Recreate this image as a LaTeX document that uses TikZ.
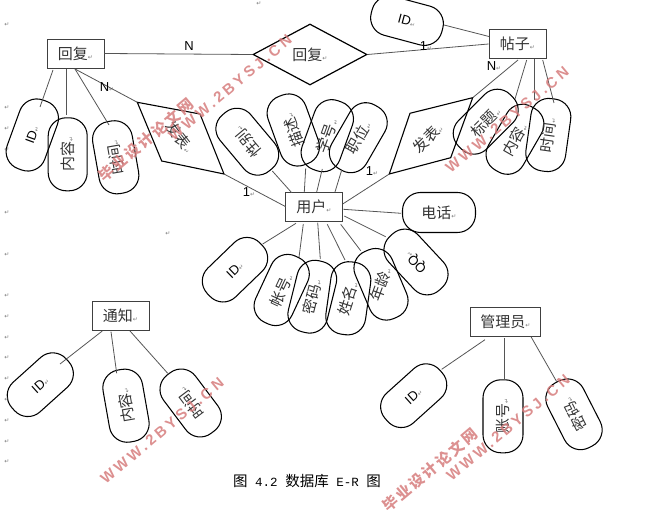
\documentclass[tikz,border=0pt]{standalone}
\usepackage{fontspec}
\usetikzlibrary{shapes.geometric}
\setmainfont{Liberation Sans}
\newfontfamily\cjk{Noto Sans CJK SC}
\newfontfamily\retfont{DejaVu Sans}
\newfontfamily\capmono{Liberation Mono}
\newfontfamily\wmlatin[LetterSpace=22]{Liberation Sans}
\newfontfamily\wmcjk[LetterSpace=15]{Noto Sans CJK SC}
\newcommand{\retm}{{\retfont\fontsize{6}{6}\selectfont\textcolor{retgray}{↵}}}
\newcommand{\lbl}[1]{{\cjk\fontsize{15}{15}\selectfont\textcolor{txtgray}{#1}}\retm}
\newcommand{\lat}[1]{{\fontsize{13}{13}\selectfont #1}\retm}
\definecolor{retgray}{HTML}{7A7A7A}
\definecolor{txtgray}{HTML}{333333}
\definecolor{edgegray}{HTML}{555555}
\definecolor{wmred}{HTML}{D67C7C}
\tikzset{
  entity/.style={draw=black!75, line width=0.9pt, minimum width=57pt, minimum height=29pt, inner sep=0pt},
  rel/.style={diamond, draw=black, line width=1.2pt, minimum width=114pt, minimum height=61pt, inner sep=0pt},
  attr/.style={draw=black, line width=1.05pt, rounded corners=18pt, minimum width=73pt, minimum height=40pt, inner sep=0pt},
  link/.style={draw=edgegray, line width=0.8pt},
  relbox/.style={draw=black, line width=1.1pt},
  card/.style={inner sep=0pt, font=\fontsize{13}{13}\selectfont},
  retmark/.style={inner sep=0pt},
  wmtext/.style={text=wmred, opacity=0.85, inner sep=0pt, rotate=40},
}
\begin{document}
\begin{tikzpicture}[x=1pt,y=-1pt]
\useasboundingbox (0,0) rectangle (657,510);

% entities
\node[entity] (eReply) at (75.5,53.5) {\lbl{回复}};
\node[entity] (ePost) at (517.5,44) {\lbl{帖子}};
\node[entity] (eUser) at (314,207) {\lbl{用户}};
\node[entity] (eNotice) at (120.5,315.7) {\lbl{通知}};
\node[entity, minimum width=70pt] (eAdmin) at (505.5,322) {\lbl{管理员}};

% relationship diamond
\node[rel] (rReply) at (310,54.5) {\lbl{回复}};

% left parallelogram
\coordinate (pLa) at (137.3,102.3);
\coordinate (pLb) at (200,114);
\coordinate (pLc) at (224,174);
\coordinate (pLd) at (161.7,161);
\draw[relbox] (pLa) -- (pLb) -- (pLc) -- (pLd) -- cycle;
\node[rotate=-52, inner sep=0pt] (rPubL) at (180,137) {\lbl{发表}};

% right parallelogram
\coordinate (pRa) at (410,113.3);
\coordinate (pRb) at (472.7,97.7);
\coordinate (pRc) at (450.7,157.7);
\coordinate (pRd) at (389.3,174);
\draw[relbox] (pRa) -- (pRb) -- (pRc) -- (pRd) -- cycle;
\node[rotate=45, inner sep=0pt] (rPubR) at (428,138) {\lbl{发表}};

% reply attributes
\node[attr, rotate=70] (aR1) at (32.3,135) {\lat{ID}};
\node[attr, rotate=90, minimum height=39pt] (aR2) at (67.7,154.3) {\lbl{内容}};
\node[attr, rotate=100] (aR3) at (115.7,157.3) {\lbl{时间}};

% post attributes
\node[attr, rotate=-15] (aP0) at (407,20.7) {\lat{ID}};
\node[attr, rotate=45] (aP1) at (485.7,121.7) {\lbl{标题}};
\node[attr, rotate=60] (aP2) at (515,139.3) {\lbl{内容}};
\node[attr, rotate=82] (aP3) at (548.3,135) {\lbl{时间}};

% user attributes
\node[attr, rotate=130] (aU1) at (247.3,141.7) {\lbl{性别}};
\node[attr, rotate=110] (aU2) at (293.3,130) {\lbl{描述}};
\node[attr, rotate=70] (aU3) at (327.3,135.7) {\lbl{学号}};
\node[attr, rotate=60] (aU4) at (358.3,137.7) {\lbl{职位}};
\node[attr] (aU5) at (439,212.5) {\lbl{电话}};
\node[attr, rotate=133] (aU6) at (416,262) {\lat{QQ}};
\node[attr, rotate=113] (aU7) at (381,284.3) {\rotatebox{-43}{\lbl{年龄}}};
\node[attr, rotate=82] (aU8) at (348.3,298.3) {\rotatebox{-10}{\lbl{姓名}}};
\node[attr, rotate=76] (aU9) at (312.3,296.7) {\lbl{密码}};
\node[attr, rotate=65] (aU10) at (281.7,290) {\lbl{帐号}};
\node[attr, rotate=44] (aU11) at (235,269.7) {\lat{ID}};

% notice attributes
\node[attr, rotate=42] (aN1) at (40.3,384.7) {\lat{ID}};
\node[attr, rotate=100] (aN2) at (126,405.7) {\lbl{内容}};
\node[attr, rotate=127] (aN3) at (190.7,403) {\lbl{时间}};

% admin attributes
\node[attr, rotate=42] (aA1) at (413.7,395.7) {\lat{ID}};
\node[attr, rotate=90] (aA2) at (503,416.3) {\lbl{账号}};
\node[attr, rotate=117] (aA3) at (574,414.3) {\lbl{密码}};

% connectors (offsets from node centres)
\draw[link] (eReply.east) -- (rReply.west);
\draw[link] (rReply.east) -- (ePost.west);
\draw[link] ([shift={(-22.5,16.5)}]eReply.center) -- ([shift={(7.7,-28)}]aR1.center);
\draw[link] ([shift={(-8.8,15.5)}]eReply.center) -- ([shift={(-1,-39.3)}]aR2.center);
\draw[link] ([shift={(-0.5,15.5)}]eReply.center) -- ([shift={(-6.7,-32.3)}]aR3.center);
\draw[link] ([shift={(-0.5,15.5)}]eReply.center) -- (pLa);
\draw[link] (pLc) -- ([shift={(-28.3,-0.3)}]eUser.center);
\draw[link] ([shift={(-28.5,-7.5)}]ePost.center) -- ([shift={(37,4.3)}]aP0.center);
\draw[link] ([shift={(0.5,16)}]ePost.center) -- (pRb);
\draw[link] ([shift={(9.2,16)}]ePost.center) -- ([shift={(29.3,-22.7)}]aP1.center);
\draw[link] ([shift={(16.5,15.3)}]ePost.center) -- ([shift={(19,-39.3)}]aP2.center);
\draw[link] ([shift={(25.2,16)}]ePost.center) -- ([shift={(5.7,-32)}]aP3.center);
\draw[link] (pRd) -- ([shift={(28.7,-3)}]eUser.center);
\draw[link] ([shift={(-22.3,-14.3)}]eUser.center) -- ([shift={(25,29.3)}]aU1.center);
\draw[link] ([shift={(-9.7,-15)}]eUser.center) -- ([shift={(12.4,38.3)}]aU2.center);
\draw[link] ([shift={(2.7,-15)}]eUser.center) -- ([shift={(-5,33.3)}]aU3.center);
\draw[link] ([shift={(21,-15)}]eUser.center) -- ([shift={(-16.6,32.3)}]aU4.center);
\draw[link] ([shift={(29.3,2.3)}]eUser.center) -- ([shift={(-38,0.8)}]aU5.center);
\draw[link] ([shift={(30.3,9)}]eUser.center) -- ([shift={(-30.3,-25.3)}]aU6.center);
\draw[link] ([shift={(26.7,17.3)}]eUser.center) -- ([shift={(-20.3,-33.6)}]aU7.center);
\draw[link] ([shift={(13.3,17.3)}]eUser.center) -- ([shift={(-3.3,-38.3)}]aU8.center);
\draw[link] ([shift={(3.7,15.7)}]eUser.center) -- ([shift={(8,-37.7)}]aU9.center);
\draw[link] ([shift={(-10.7,17)}]eUser.center) -- ([shift={(17.3,-32.7)}]aU10.center);
\draw[link] ([shift={(-18,16.3)}]eUser.center) -- ([shift={(27.7,-25.7)}]aU11.center);
\draw[link] ([shift={(-18.2,15.3)}]eNotice.center) -- ([shift={(19.7,-20.7)}]aN1.center);
\draw[link] ([shift={(-9.5,16)}]eNotice.center) -- ([shift={(-9.3,-32.4)}]aN2.center);
\draw[link] ([shift={(9.5,15.3)}]eNotice.center) -- ([shift={(-23,-29.7)}]aN3.center);
\draw[link] ([shift={(-20.5,17.7)}]eAdmin.center) -- ([shift={(28,-26.4)}]aA1.center);
\draw[link] ([shift={(-1.5,16.3)}]eAdmin.center) -- ([shift={(1,-37.3)}]aA2.center);
\draw[link] ([shift={(25.5,14.7)}]eAdmin.center) -- ([shift={(-17.3,-32.6)}]aA3.center);

% cardinalities
\node[card] (cN1) at (189,46) {N};
\node[card] (cN2) at (107,87) {N\retm};
\node[card] (cN3) at (494,66) {N\retm};
\node[card] (c1a) at (426,46) {1\retm};
\node[card] (c1b) at (249,192) {1\retm};
\node[card] (c1c) at (372,171) {1\retm};

% paragraph marks
\foreach \i/\x/\y in {1/7/25,2/7/108,3/7/129,4/7/150,5/7/213,6/7/255,7/7/296,8/7/317,9/7/338,10/7/358,11/7/379,12/7/400,13/7/421,14/7/442,15/7/462,16/259/4,17/168/234}
  \node[retmark] (ret\i) at (\x,\y) {\retm};

% caption
\node[inner sep=0pt] (caption) at (307,481.5) {{\cjk\fontsize{14.5}{15}\selectfont 图}{\capmono\fontsize{12.5}{15}\selectfont\ 4.2\ }{\cjk\fontsize{14.5}{15}\selectfont 数据库}{\capmono\fontsize{12.5}{15}\selectfont\ E-R\ }{\cjk\fontsize{14.5}{15}\selectfont 图}};

% watermarks
\node[wmtext] (wm1) at (146,140) {\wmcjk\bfseries\fontsize{15}{15}\selectfont 毕业设计论文网};
\node[wmtext] (wm2) at (230,88) {\wmlatin\bfseries\fontsize{15}{15}\selectfont WWW.2BYSJ.CN};
\node[wmtext] (wm3) at (507,120) {\wmlatin\bfseries\fontsize{15}{15}\selectfont WWW.2BYSJ.CN};
\node[wmtext] (wm4) at (162,431) {\wmlatin\bfseries\fontsize{15}{15}\selectfont WWW.2BYSJ.CN};
\node[wmtext] (wm5) at (430,470) {\wmcjk\bfseries\fontsize{15}{15}\selectfont 毕业设计论文网};
\node[wmtext] (wm6) at (508,428) {\wmlatin\bfseries\fontsize{15}{15}\selectfont WWW.2BYSJ.CN};
\end{tikzpicture}
\end{document}
